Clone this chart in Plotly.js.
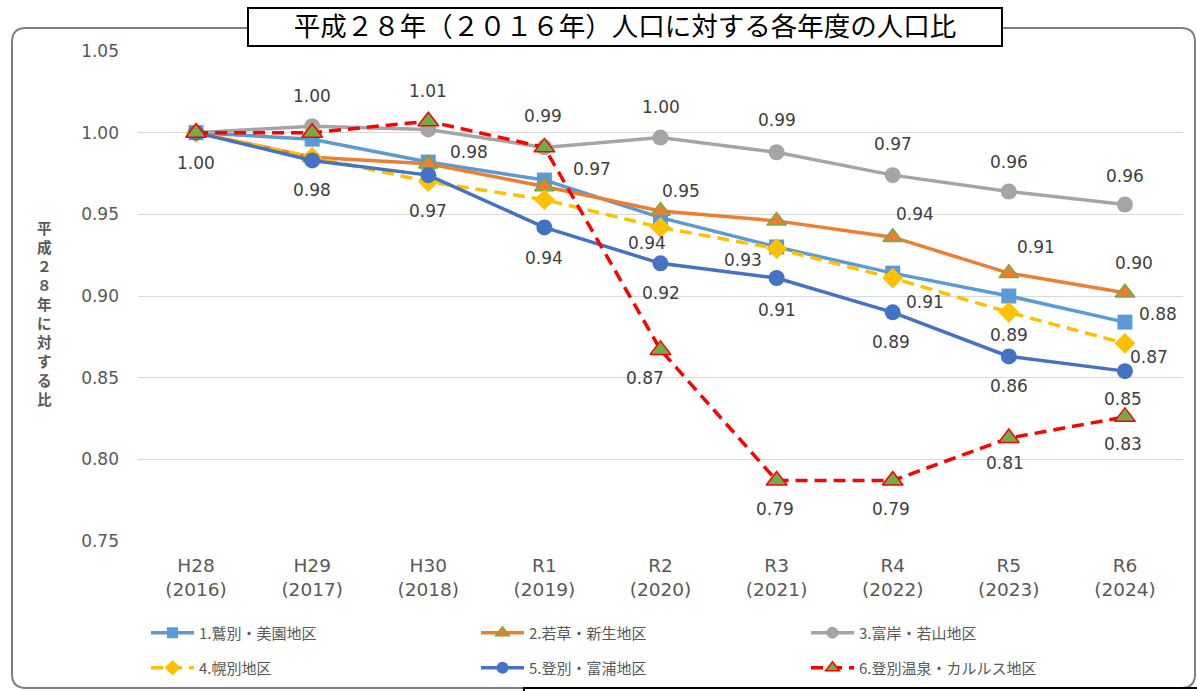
<!DOCTYPE html>
<html><head><meta charset="utf-8">
<script src="https://cdn.plot.ly/plotly-3.0.1.min.js"></script>
<style>html,body{margin:0;padding:0;background:#fff;}</style>
</head><body>
<div id="chart" style="width:1197px;height:691px"></div>
<script>
// ---- data ----
const categories = ['H28', 'H29', 'H30', 'R1', 'R2', 'R3', 'R4', 'R5', 'R6'];
const yearLabels = ['2016', '2017', '2018', '2019', '2020', '2021', '2022', '2023', '2024'];
const seriesNames = ['1.鷲別・美園地区', '2.若草・新生地区', '3.富岸・若山地区',
                     '4.幌別地区', '5.登別・富浦地区', '6.登別温泉・カルルス地区'];
const washibetsu = [1.000, 0.996, 0.982, 0.971, 0.948, 0.930, 0.914, 0.900, 0.884];
const wakakusa   = [1.000, 0.985, 0.981, 0.967, 0.952, 0.946, 0.936, 0.914, 0.902];
const tomikishi  = [1.000, 1.004, 1.002, 0.991, 0.997, 0.988, 0.974, 0.964, 0.956];
const horobetsu  = [1.000, 0.985, 0.970, 0.959, 0.942, 0.929, 0.911, 0.890, 0.871];
const noboribetsu= [1.000, 0.983, 0.974, 0.942, 0.920, 0.911, 0.890, 0.863, 0.854];
const onsen      = [1.000, 1.000, 1.007, 0.991, 0.867, 0.787, 0.787, 0.813, 0.826];
const titleText = '平成２８年（２０１６年）人口に対する各年度の人口比';
const yTitleText = '平成２８年に対する比';

// ---- styles ----
const W = 1197, H = 691, ML = 138, MR = 14, MT = 51, MB = 150;
const PW = W - ML - MR, PH = H - MT - MB;
const px = x => (x - ML) / PW;
const py = y => (H - MB - y) / PH;
const labelFont = {family: 'DejaVu Sans', size: 17, color: '#404040'};

const styles = [
  {line: {color: '#5B9BD5', width: 3.5}, marker: {symbol: 'square', size: 15, color: '#5B9BD5'}},
  {line: {color: '#ED7D31', width: 3.5}, marker: {symbol: 'triangle-up', size: 17, color: '#ED7D31', line: {color: '#70AD47', width: 1.5}}},
  {line: {color: '#A5A5A5', width: 3.5}, marker: {symbol: 'circle', size: 16, color: '#A5A5A5'}},
  {line: {color: '#FFC000', width: 3.5, dash: '12px,7px'}, marker: {symbol: 'diamond', size: 16, color: '#FFC000'}},
  {line: {color: '#4472C4', width: 3.5}, marker: {symbol: 'circle', size: 16, color: '#4472C4'}},
  {line: {color: '#FF0000', width: 3.5, dash: '12px,7px'}, marker: {symbol: 'triangle-up', size: 18, color: '#70AD47', line: {color: '#FF0000', width: 1.5}}}
];
const legendMarkerSize = [11, 12, 12, 12, 12, 12];
// label placement: [pointIndex, dx, dy] in screen pixels
const labelSpecs = [
  [[0, 0, 30], [2, 41, -10], [3, 48, -11], [5, -34, 13], [8, 33, -8]],
  [[4, 20, -20], [6, 22, -23], [7, 27, -26], [8, 9, -30]],
  [[1, 0, -30], [4, 0, -31], [5, 0, -32], [6, 0, -31], [7, 0, -29], [8, 0, -29]],
  [[2, 0, 29], [4, -14, 16], [6, 32, 24], [7, 0, 23], [8, 24, 14]],
  [[1, 0, 30], [3, 0, 31], [4, 0, 30], [5, 0, 32], [6, -2, 30], [7, 0, 30], [8, -2, 28]],
  [[2, 0, -30], [3, -1, -31], [4, -16, 28], [5, -2, 28], [6, -2, 28], [7, -4, 25], [8, -2, 27]]
];

const allSeries = [washibetsu, wakakusa, tomikishi, horobetsu, noboribetsu, onsen];
const traces = allSeries.map((vals, k) => ({
  type: 'scatter', mode: 'lines+markers',
  x: categories, y: vals, name: seriesNames[k],
  line: styles[k].line, marker: styles[k].marker,
  showlegend: false, hoverinfo: 'name+y'
}));
// legend entries (smaller symbols, as in the reference legend)
allSeries.forEach((vals, k) => {
  traces.push({
    type: 'scatter', mode: 'lines+markers', x: [null], y: [null], name: seriesNames[k],
    line: styles[k].line, marker: Object.assign({}, styles[k].marker, {size: legendMarkerSize[k]}),
    legend: k < 3 ? 'legend' : 'legend2', hoverinfo: 'skip'
  });
});

const annotations = [];
allSeries.forEach((vals, k) => {
  labelSpecs[k].forEach(([i, dx, dy]) => {
    annotations.push({x: categories[i], y: vals[i], xref: 'x', yref: 'y',
      text: vals[i].toFixed(2), showarrow: false, xshift: dx, yshift: -dy, font: labelFont});
  });
});
// vertical (upright) y-axis title, one character per line
annotations.push({x: px(44), y: py(313), xref: 'paper', yref: 'paper',
  xanchor: 'center', yanchor: 'middle', showarrow: false,
  text: Array.from(yTitleText).join('<br>'),
  font: {family: 'Noto Sans CJK JP', size: 14.6, color: '#595959', weight: 'bold'}});

const r = 14, fx0 = 12, fy0 = 28, fx1 = 1195, fy1 = 688;
const framePath = `M ${px(fx0)},${py(fy0 + r)} Q ${px(fx0)},${py(fy0)} ${px(fx0 + r)},${py(fy0)} ` +
  `L ${px(fx1 - r)},${py(fy0)} Q ${px(fx1)},${py(fy0)} ${px(fx1)},${py(fy0 + r)} ` +
  `L ${px(fx1)},${py(fy1 - r)} Q ${px(fx1)},${py(fy1)} ${px(fx1 - r)},${py(fy1)} ` +
  `L ${px(fx0 + r)},${py(fy1)} Q ${px(fx0)},${py(fy1)} ${px(fx0)},${py(fy1 - r)} Z`;

const shapes = [
  {type: 'path', xref: 'paper', yref: 'paper', path: framePath, line: {color: '#7F7F7F', width: 2}, layer: 'above'},
  {type: 'rect', xref: 'paper', yref: 'paper', x0: px(248), x1: px(1002), y0: py(8), y1: py(46),
   line: {color: '#000', width: 2}, fillcolor: '#fff', layer: 'above'},
  {type: 'rect', xref: 'paper', yref: 'paper', x0: px(524), x1: px(1215), y0: py(688), y1: py(720),
   line: {color: '#000', width: 2}, fillcolor: '#fff', layer: 'above'}
];

const legendBase = {orientation: 'h', entrywidth: 272, entrywidthmode: 'pixels', itemwidth: 43,
  xanchor: 'left', yanchor: 'middle', x: px(146), bgcolor: 'rgba(0,0,0,0)',
  font: {family: 'Noto Sans CJK JP', size: 15, color: '#595959'}, itemclick: false, itemdoubleclick: false};

const layout = {
  width: W, height: H,
  margin: {l: ML, r: MR, t: MT, b: MB, autoexpand: false},
  paper_bgcolor: '#fff', plot_bgcolor: '#fff',
  title: {text: titleText, xref: 'paper', x: px(625), xanchor: 'center', yref: 'container', y: 1 - 27 / H, yanchor: 'middle',
          font: {family: 'Noto Sans CJK JP', size: 26.5, color: '#000'}},
  xaxis: {type: 'category', range: [-0.5, 8.5], tickmode: 'array', tickvals: categories,
          ticktext: categories.map((c, i) => c + '<br>(' + yearLabels[i] + ')'),
          showgrid: false, zeroline: false, showline: false, ticks: '', ticklabelstandoff: 11,
          tickfont: {family: 'DejaVu Sans', size: 18.5, color: '#595959'}, fixedrange: true},
  yaxis: {range: [0.75, 1.05], dtick: 0.05, tick0: 0.75, tickformat: '.2f',
          showgrid: true, gridcolor: '#D9D9D9', gridwidth: 1, zeroline: false, showline: false, ticks: '',
          ticklabelstandoff: 18, tickfont: {family: 'DejaVu Sans', size: 17, color: '#595959'}, fixedrange: true},
  legend: Object.assign({}, legendBase, {y: py(633)}),
  legend2: Object.assign({}, legendBase, {y: py(668)}),
  shapes: shapes,
  annotations: annotations,
  showlegend: true
};

Plotly.newPlot('chart', traces, layout, {displayModeBar: false});
</script>
</body></html>
